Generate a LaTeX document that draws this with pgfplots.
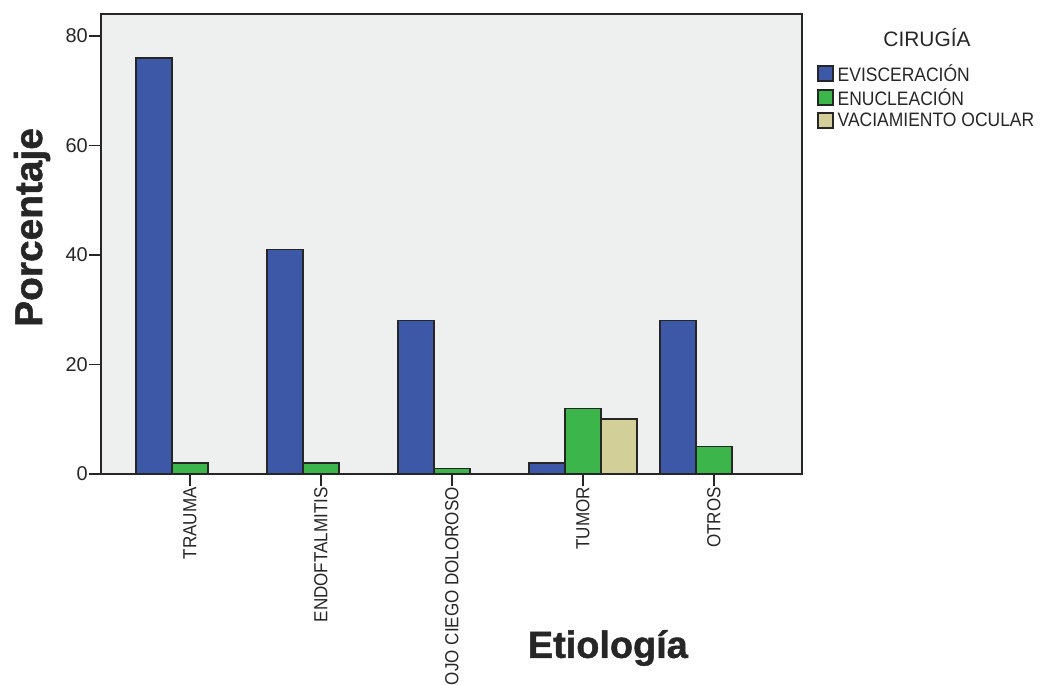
\documentclass[border=0pt]{standalone}
\usepackage{fontspec}
\setmainfont{Liberation Sans}
\newfontfamily\spssfont{Liberation Sans}[FakeStretch=0.9]
\newfontfamily\heavyfont{Liberation Sans Bold}[FakeBold=1.2]
\usepackage{pgfplots}
\pgfplotsset{compat=1.18}
\definecolor{cblue}{HTML}{3E58A8}
\definecolor{cgreen}{HTML}{3CB64B}
\definecolor{ctan}{HTML}{D3CF98}
\definecolor{cbg}{HTML}{EEF0EF}
\definecolor{cline}{HTML}{262626}
\pgfplotsset{mylegend/.style={legend image code/.code={\draw[##1, line width=1.5bp] (0bp,-7.5bp) rectangle (15bp,7.5bp);}}}
\begin{document}
\begin{tikzpicture}
\begin{axis}[name=ax, scale only axis, width=701bp, height=460bp,
 xmin=-0.679, xmax=4.672, ymin=0, ymax=84,
 ybar=0pt, bar width=36bp,
 axis background/.style={fill=cbg},
 axis line style={cline, line width=1.5bp},
 xtick={0,1,2,3,4},
 xticklabels={TRAUMA,ENDOFTALMITIS,OJO CIEGO DOLOROSO,TUMOR,OTROS},
 ytick={0,20,40,60,80},
 tick align=outside, xtick pos=bottom, ytick pos=left,
 major tick length=12bp, tick style={cline, line width=1.5bp},
 x tick label style={rotate=90, anchor=east, font=\spssfont\fontsize{19}{19}\selectfont, inner sep=1bp, text=cline},
 y tick label style={font=\fontsize{20}{20}\selectfont, inner sep=1bp, text=cline},
 /pgf/number format/assume math mode=true,
 xlabel={Etiología},
 x label style={at={(axis description cs:0.723,0)}, yshift=-174bp, anchor=center, font=\heavyfont\fontsize{38}{38}\selectfont, text=cline},
 ylabel={Porcentaje},
 y label style={at={(axis description cs:-0.0984,0.536)}, anchor=center, font=\heavyfont\fontsize{39}{39}\selectfont, text=cline},
 legend style={at={(axis description cs:1,1)}, anchor=north west, xshift=15bp, yshift=-48bp,
   draw=none, fill=none, font=\spssfont\fontsize{19.5}{19.5}\selectfont, text=cline,
   row sep=2bp, inner sep=0pt, cells={anchor=west}, nodes={inner xsep=4bp}},
]
\addplot[fill=cblue, draw=cline, line width=1.5bp, mylegend] coordinates {(0,76) (1,41) (2,28) (3,2) (4,28)};
\addplot[fill=cgreen, draw=cline, line width=1.5bp, mylegend] coordinates {(0,2) (1,2) (2,1) (3,12) (4,5)};
\addplot[fill=ctan, draw=cline, line width=1.5bp, mylegend] coordinates {(3,10)};
\legend{EVISCERACIÓN,ENUCLEACIÓN,VACIAMIENTO OCULAR}
\end{axis}
\node[font=\fontsize{21}{21}\selectfont, text=cline] at ([xshift=125bp,yshift=-24bp]ax.north east) {CIRUGÍA};
\pgfresetboundingbox
\path[use as bounding box] ([xshift=-101bp,yshift=-211bp]ax.south west) rectangle ([xshift=239bp,yshift=14bp]ax.north east);
\end{tikzpicture}
\end{document}
